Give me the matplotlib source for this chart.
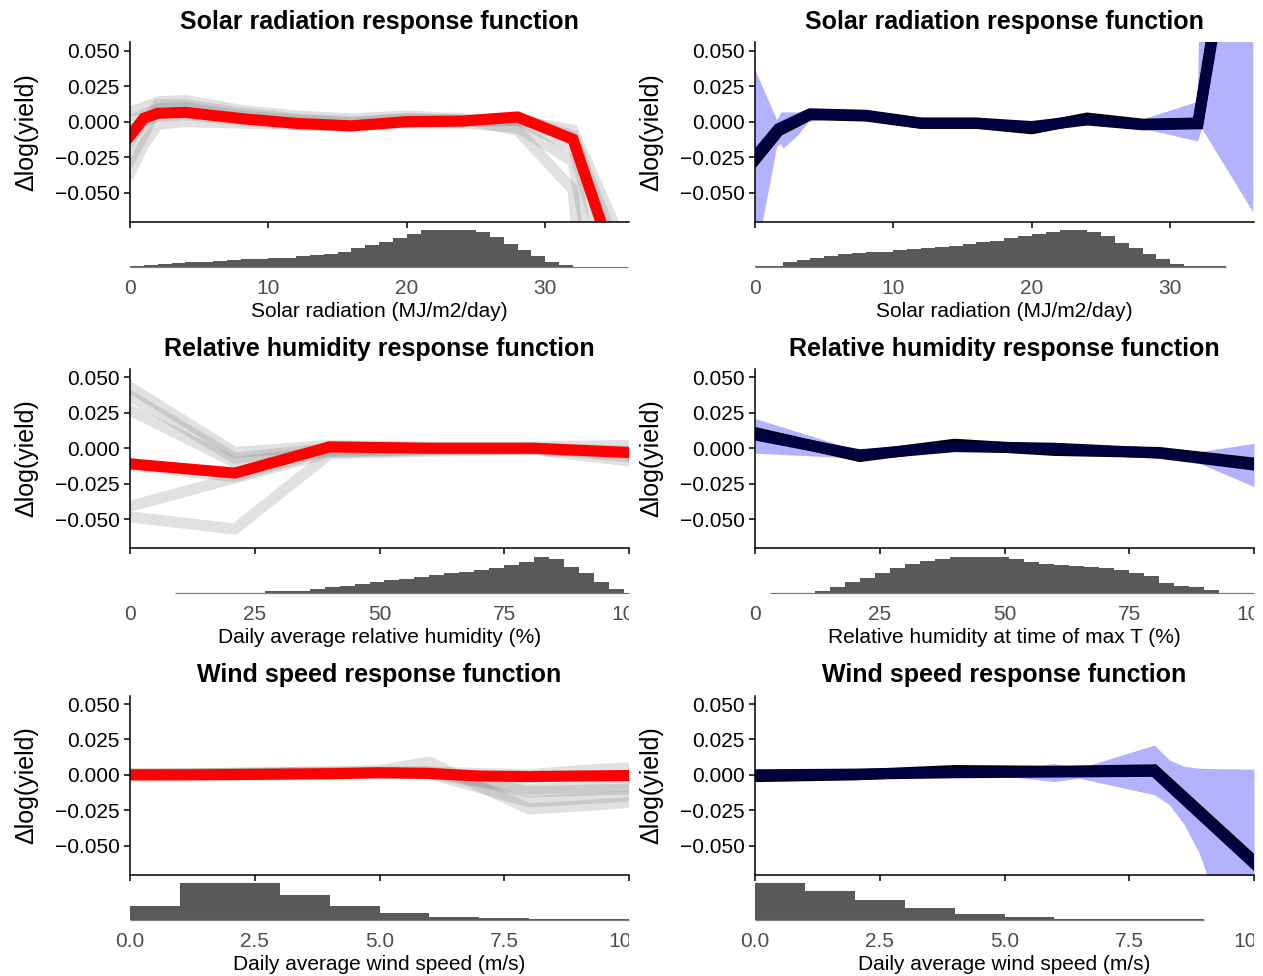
import numpy as np
import matplotlib
matplotlib.use('Agg')
import matplotlib.pyplot as plt
from matplotlib.transforms import Bbox, TransformedBbox

plt.rcParams['font.family'] = ['Liberation Sans', 'DejaVu Sans']

# ---------------- data ----------------
y_ticks = [-0.05, -0.025, 0.0, 0.025, 0.05]
y_tick_labels = ['\u22120.050', '\u22120.025', '0.000', '0.025', '0.050']

# solar radiation, left (red fit + grey runs)
solar_x = [0, 1, 2, 4, 8, 12, 16, 20, 24, 28, 32, 36]
solar_red = [-0.010, 0.0024, 0.0059, 0.0066, 0.0022, -0.0012, -0.0030, 0.0000, 0.0004, 0.0033, -0.0124, -0.128]
solar_grey = [
    [-0.027, -0.009, 0.012, 0.012, 0.006, 0.002, 0.000, 0.002, 0.001, 0.001, -0.006, -0.095],
    [-0.036, -0.016, -0.002, 0.000, -0.001, -0.002, -0.003, -0.001, -0.001, -0.004, -0.028, -0.24],
    [0.007, 0.010, 0.014, 0.015, 0.008, 0.004, 0.002, 0.004, 0.002, -0.006, -0.048, -0.45],
    [-0.013, 0.000, 0.004, 0.005, 0.001, -0.002, -0.003, 0.000, 0.000, 0.001, -0.018, -0.15],
    [0.000, 0.005, 0.009, 0.010, 0.004, 0.001, -0.001, 0.002, 0.001, 0.003, -0.010, -0.11],
]
solar_hist_edges_l = np.arange(0, 37, 1)
solar_hist_l = [0.02, 0.05, 0.06, 0.11, 0.12, 0.14, 0.15, 0.18, 0.20, 0.21, 0.24, 0.25,
                0.29, 0.33, 0.34, 0.39, 0.50, 0.59, 0.66, 0.77, 0.88, 0.99, 1.00, 1.00,
                1.00, 0.95, 0.80, 0.62, 0.45, 0.28, 0.14, 0.05, 0.0, 0.0, 0.0, 0.0]

# solar radiation, right (navy fit, black fit, blue band)
solar_x_r = [0, 1.7, 4, 8, 12, 16, 20, 24, 28, 32, 36]
solar_navy = [-0.025, -0.0050, 0.0055, 0.0045, -0.0010, -0.0010, -0.0035, 0.0012, -0.0022, -0.0015, 0.23]
solar_black = [-0.027, -0.0065, 0.0050, 0.0040, -0.0012, -0.0012, -0.0050, 0.0025, -0.0018, -0.0010, 0.24]
solar_band_x = [0, 1.6, 1.9, 2.05, 3.1, 3.9, 6, 8, 12, 16, 20, 24, 28, 32, 32.3, 36]
solar_band_hi = [0.037, 0.001, 0.0065, 0.0065, 0.0065, 0.0092, 0.0078, 0.0065, 0.0015, 0.0015,
                 0.0005, 0.0040, 0.0015, 0.014, 0.20, 0.60]
solar_band_lo = [-0.100, -0.0177, -0.016, -0.019, -0.010, 0.000, 0.002, 0.002, -0.003, -0.003,
                 -0.006, -0.001, -0.005, -0.014, -0.005, -0.064]
solar_hist_edges_r = np.arange(0, 35, 1)
solar_hist_r = [0.01, 0.03, 0.12, 0.18, 0.25, 0.29, 0.34, 0.36, 0.39, 0.41, 0.45, 0.48,
                0.51, 0.55, 0.57, 0.61, 0.66, 0.71, 0.77, 0.84, 0.88, 0.94, 1.00, 1.00,
                0.94, 0.84, 0.65, 0.50, 0.35, 0.22, 0.07, 0.03, 0.01, 0.01]

# relative humidity, left
rh_x = [0, 21, 40, 60, 81, 100]
rh_red = [-0.011, -0.0175, 0.001, 0.000, 0.000, -0.003]
rh_grey = [
    [0.043, -0.003, 0.002, 0.001, 0.001, 0.002],
    [0.037, -0.007, 0.000, 0.000, 0.000, -0.004],
    [0.027, -0.010, -0.002, -0.001, -0.001, -0.009],
    [-0.041, -0.021, -0.003, -0.001, 0.000, -0.002],
    [-0.0485, -0.057, -0.004, -0.002, -0.001, -0.003],
    [-0.012, -0.020, -0.001, 0.000, 0.000, -0.006],
]
rh_hist_edges_l = np.arange(9, 103, 3)
rh_hist_l = [0.0, 0.0, 0.005, 0.005, 0.01, 0.02, 0.05, 0.05, 0.065, 0.11, 0.16, 0.21,
             0.26, 0.30, 0.35, 0.40, 0.44, 0.49, 0.54, 0.58, 0.64, 0.69, 0.76, 0.85,
             1.00, 0.93, 0.72, 0.54, 0.32, 0.12, 0.01]

# relative humidity at max T, right
rh_x_r = [0, 21, 40, 60, 81, 100]
rh_navy = [0.0094, -0.0047, 0.0012, 0.0000, -0.0035, -0.0118]
rh_black = [0.0110, -0.0058, 0.0028, -0.0015, -0.0030, -0.0105]
rh_band_x = [0, 21, 40, 60, 81, 88, 100]
rh_band_hi = [0.021, -0.002, 0.003, 0.001, -0.002, -0.003, 0.0035]
rh_band_lo = [-0.0035, -0.007, -0.001, -0.002, -0.005, -0.009, -0.027]
rh_hist_edges_r = np.arange(3, 105, 3)
rh_hist_r = [0.005, 0.005, 0.02, 0.05, 0.17, 0.30, 0.43, 0.56, 0.69, 0.79, 0.88, 0.94,
             0.98, 1.00, 1.00, 0.98, 0.93, 0.86, 0.81, 0.78, 0.74, 0.72, 0.69, 0.63,
             0.56, 0.46, 0.28, 0.20, 0.16, 0.09, 0.02, 0.005, 0.0]

# wind speed, left
wind_x = [0, 1, 2, 3, 4, 5, 6, 7, 8, 9, 10]
wind_red = [0.0, 0.0, 0.0002, 0.0005, 0.0008, 0.0015, 0.0010, -0.0008, -0.0012, -0.0008, -0.0005]
wind_grey = [
    [0.0, 0.0005, 0.001, 0.0015, 0.002, 0.003, 0.009, -0.008, -0.024, -0.022, -0.0195],
    [0.0, 0.0, 0.0005, 0.001, 0.001, 0.0015, 0.001, -0.009, -0.019, -0.017, -0.015],
    [-0.001, -0.001, -0.0005, 0.0, 0.0005, 0.001, 0.001, -0.005, -0.012, -0.011, -0.010],
    [0.0005, 0.0005, 0.001, 0.001, 0.0015, 0.0015, 0.002, -0.004, -0.010, -0.009, -0.008],
    [0.001, 0.001, 0.001, 0.0015, 0.002, 0.002, 0.002, 0.001, 0.000, 0.003, 0.005],
]
wind_hist_edges_l = np.arange(0, 11, 1)
wind_hist_l = [0.375, 1.0, 1.0, 0.69, 0.38, 0.20, 0.09, 0.055, 0.03, 0.025]

# wind speed, right
wind_x_r = [0, 2, 4, 6, 8, 10]
wind_navy = [0.000, 0.0005, 0.0015, 0.0020, 0.0025, -0.0625]
wind_black = [-0.0012, 0.0000, 0.0030, 0.0025, 0.0035, -0.061]
wind_band_x = [0, 2, 4, 5, 6, 6.5, 8, 8.3, 8.6, 8.9, 9.05, 10]
wind_band_hi = [0.0008, 0.001, 0.002, 0.0035, 0.008, 0.0047, 0.021, 0.0106, 0.006, 0.0047, 0.0045, 0.004]
wind_band_lo = [-0.0005, 0.000, 0.001, -0.001, -0.0047, -0.0024, -0.014, -0.021, -0.035, -0.055, -0.070, -0.13]
wind_hist_edges_r = np.arange(0, 10, 1)
wind_hist_r = [1.0, 0.80, 0.54, 0.33, 0.17, 0.07, 0.025, 0.02, 0.015]

# ---------------- figure ----------------
W, H = 1263, 976
fig = plt.figure(figsize=(W / 100, H / 100), dpi=100)

COL_X = [130, 755]
COL_CLIP = [(0, 629), (640, 1254)]
AX_W = 499
ROW_DY = 326.6
YLIM = (-0.0706, 0.056)
RED = '#ff0000'
NAVY = '#00003f'
BAND = '#b2b2ff'
GREY = '#808080'
HIST = '#595959'
LW = 8


def px_axes(x0, top, w, h):
    return fig.add_axes([x0 / W, 1 - (top + h) / H, w / W, h / H])


def make_panel(col, row, title, xlabel, xlim, xticks, xticklabels):
    x0 = COL_X[col]
    dy = row * ROW_DY
    ax = px_axes(x0, 42.3 + dy, AX_W, 179.4)
    axh = px_axes(x0, 230 + dy, AX_W, 36.7)

    ax.set_xlim(xlim)
    ax.set_ylim(YLIM)
    ax.spines[['top', 'right']].set_visible(False)
    for s in ['left', 'bottom']:
        ax.spines[s].set_linewidth(1.1)
    ax.set_xticks(xticks)
    ax.tick_params(axis='x', labelbottom=False, length=4.5, width=1.1)
    ax.set_yticks(y_ticks)
    ax.set_yticklabels(y_tick_labels)
    ax.tick_params(axis='y', length=4.5, width=1.1, labelsize=15, pad=3)
    ax.set_title(title, fontsize=18, fontweight='bold', pad=9.5)
    ax.set_ylabel('\u0394log(yield)', fontsize=18)
    ax.yaxis.set_label_coords(-0.183, 0.5)

    axh.set_xlim(xlim)
    axh.set_ylim(0, 1.0)
    for s in axh.spines.values():
        s.set_visible(False)
    axh.set_yticks([])
    axh.set_xticks(xticks)
    axh.set_xticklabels(xticklabels)
    axh.tick_params(axis='x', length=0, labelsize=15, labelcolor='#4d4d4d', pad=8.5)
    axh.set_xlabel(xlabel, fontsize=15, labelpad=3)
    axh.patch.set_alpha(0)

    # labels are cut at the panel's right edge, as in the original
    c0, c1 = COL_CLIP[col]
    clip = TransformedBbox(Bbox([[c0 / W, 0], [c1 / W, 1]]), fig.transFigure)
    for lab in axh.get_xticklabels():
        lab.set_clip_on(True)
        lab.set_clip_box(clip)
    return ax, axh


def draw_hist(axh, edges, heights, xlim):
    edges = np.asarray(edges, dtype=float)
    axh.bar(edges[:-1], heights, width=np.diff(edges), align='edge',
            color=HIST, linewidth=0)
    axh.hlines(0, max(edges[0], xlim[0]), min(edges[-1], xlim[1]),
               color='#7f7f7f', lw=0.9, clip_on=False)


def draw_left(ax, x, red, greys):
    for g in greys:
        ax.plot(x, g, color=GREY, alpha=0.23, lw=LW, solid_joinstyle='miter')
    ax.plot(x, red, color=RED, lw=LW, solid_joinstyle='miter')


def draw_right(ax, x, navy, black, bx, lo, hi):
    ax.fill_between(bx, lo, hi, color=BAND, linewidth=0)
    ax.plot(x, black, color='black', lw=LW, solid_joinstyle='miter')
    ax.plot(x, navy, color=NAVY, lw=LW, solid_joinstyle='miter')


solar_xlim = (0, 36.05)
solar_ticks = [0, 10, 20, 30]
solar_labels = ['0', '10', '20', '30']
rh_xlim = (0, 100)
rh_ticks = [0, 25, 50, 75, 100]
rh_labels = ['0', '25', '50', '75', '100']
wind_xlim = (0, 10)
wind_ticks = [0, 2.5, 5, 7.5, 10]
wind_labels = ['0.0', '2.5', '5.0', '7.5', '10.0']

# row 1: solar radiation
ax, axh = make_panel(0, 0, 'Solar radiation response function', 'Solar radiation (MJ/m2/day)',
                     solar_xlim, solar_ticks, solar_labels)
draw_left(ax, solar_x, solar_red, solar_grey)
draw_hist(axh, solar_hist_edges_l, solar_hist_l, solar_xlim)

ax, axh = make_panel(1, 0, 'Solar radiation response function', 'Solar radiation (MJ/m2/day)',
                     solar_xlim, solar_ticks, solar_labels)
draw_right(ax, solar_x_r, solar_navy, solar_black, solar_band_x, solar_band_lo, solar_band_hi)
draw_hist(axh, solar_hist_edges_r, solar_hist_r, solar_xlim)

# row 2: relative humidity
ax, axh = make_panel(0, 1, 'Relative humidity response function', 'Daily average relative humidity (%)',
                     rh_xlim, rh_ticks, rh_labels)
draw_left(ax, rh_x, rh_red, rh_grey)
draw_hist(axh, rh_hist_edges_l, rh_hist_l, rh_xlim)

ax, axh = make_panel(1, 1, 'Relative humidity response function', 'Relative humidity at time of max T (%)',
                     rh_xlim, rh_ticks, rh_labels)
draw_right(ax, rh_x_r, rh_navy, rh_black, rh_band_x, rh_band_lo, rh_band_hi)
draw_hist(axh, rh_hist_edges_r, rh_hist_r, rh_xlim)

# row 3: wind speed
ax, axh = make_panel(0, 2, 'Wind speed response function', 'Daily average wind speed (m/s)',
                     wind_xlim, wind_ticks, wind_labels)
draw_left(ax, wind_x, wind_red, wind_grey)
draw_hist(axh, wind_hist_edges_l, wind_hist_l, wind_xlim)

ax, axh = make_panel(1, 2, 'Wind speed response function', 'Daily average wind speed (m/s)',
                     wind_xlim, wind_ticks, wind_labels)
draw_right(ax, wind_x_r, wind_navy, wind_black, wind_band_x, wind_band_lo, wind_band_hi)
draw_hist(axh, wind_hist_edges_r, wind_hist_r, wind_xlim)

fig.savefig('out.png', dpi=100)
